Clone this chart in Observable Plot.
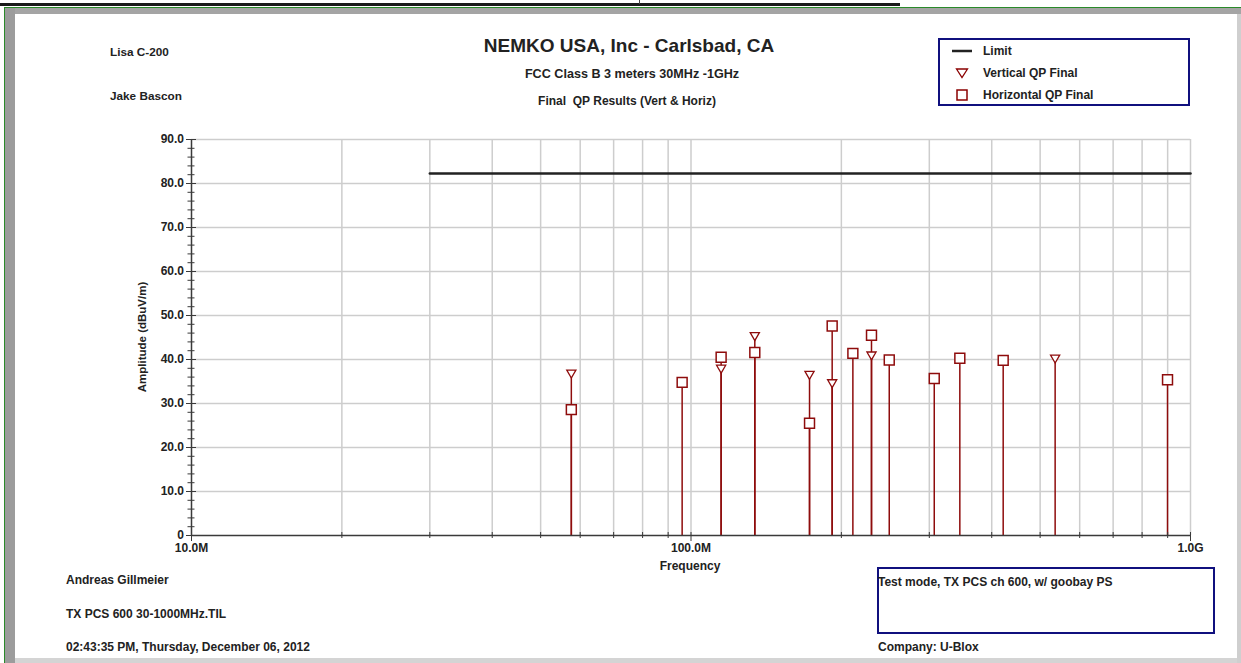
<!DOCTYPE html>
<html>
<head>
<meta charset="utf-8">
<script src="https://cdn.jsdelivr.net/npm/d3@7"></script>
<script src="https://cdn.jsdelivr.net/npm/@observablehq/plot@0.6"></script>
<style>
  html, body { margin: 0; padding: 0; background: #fff; }
  #page { position: relative; width: 1241px; height: 663px; overflow: hidden; background: #fff;
          font-family: "Liberation Sans", Arial, Helvetica, sans-serif; font-weight: bold; color: #222; }
  .abs { position: absolute; }
  .t { position: absolute; white-space: nowrap; line-height: 1; transform: translateY(-50%); }
  .c { transform: translate(-50%, -50%); }
  #chart { position: absolute; left: 0; top: 0; }
</style>
</head>
<body>
<div id="page">
  <!-- window frame -->
  <div class="abs" style="left:0;top:3px;width:900px;height:3px;background:#1a1a1a"></div>
  <div class="abs" style="left:639px;top:0;width:1px;height:4px;background:#444"></div>
  <div class="abs" style="left:4px;top:7px;width:1237px;height:1px;background:#2a8a2a"></div>
  <div class="abs" style="left:4px;top:7px;width:1px;height:656px;background:#2a8a2a"></div>
  <div class="abs" style="left:5px;top:8px;width:1236px;height:6px;background:#a4a4a4"></div>
  <div class="abs" style="left:5px;top:8px;width:10px;height:655px;background:#9c9c9c"></div>
  <div class="abs" style="left:15px;top:658px;width:1226px;height:5px;background:#d4d4d4"></div>
  <div class="abs" style="left:1237px;top:14px;width:4px;height:649px;background:#cfcfcf"></div>

  <div id="chart"></div>

  <!-- header texts -->
  <div class="t" style="left:110px;top:52px;font-size:11.75px">Lisa C-200</div>
  <div class="t" style="left:110px;top:96px;font-size:11.75px">Jake Bascon</div>
  <div class="t c" style="left:629px;top:45px;font-size:19px">NEMKO USA, Inc - Carlsbad, CA</div>
  <div class="t c" style="left:632px;top:74px;font-size:12.6px">FCC Class B 3 meters 30MHz -1GHz</div>
  <div class="t c" style="left:627px;top:101px;font-size:12px;white-space:pre">Final  QP Results (Vert &amp; Horiz)</div>

  <!-- legend -->
  <div class="abs" style="left:938px;top:38px;width:248px;height:64px;border:2px solid #10107e"></div>
  <svg class="abs" style="left:938px;top:38px" width="40" height="30">
    <line x1="14" x2="34" y1="13" y2="13" stroke="#222" stroke-width="2.5"></line>
  </svg>
  <svg class="abs" style="left:948px;top:60px" width="30" height="50">
    <path d="M8.5,9 L19.5,9 L14,17.5 Z" fill="white" stroke="#8b0000" stroke-width="1.3"></path>
    <rect x="9" y="30" width="10" height="10" fill="white" stroke="#8b0000" stroke-width="1.5"></rect>
  </svg>
  <div class="t" style="left:983px;top:51px;font-size:12px">Limit</div>
  <div class="t" style="left:983px;top:73px;font-size:12px">Vertical QP Final</div>
  <div class="t" style="left:983px;top:95px;font-size:12px">Horizontal QP Final</div>

  <!-- axis titles -->
  <div class="t c" style="left:143px;top:337px;font-size:11.5px;transform:translate(-50%,-50%) rotate(-90deg)">Amplitude (dBuV/m)</div>
  <div class="t c" style="left:690px;top:566px;font-size:12px">Frequency</div>

  <!-- footer -->
  <div class="t" style="left:66px;top:580px;font-size:12px">Andreas Gillmeier</div>
  <div class="t" style="left:66px;top:614px;font-size:12px">TX PCS 600 30-1000MHz.TIL</div>
  <div class="t" style="left:66px;top:647px;font-size:12px">02:43:35 PM, Thursday, December 06, 2012</div>
  <div class="abs" style="left:877px;top:567px;width:334px;height:63px;border:2px solid #10107e"></div>
  <div class="t" style="left:878px;top:582px;font-size:12px">Test mode, TX PCS ch 600, w/ goobay PS</div>
  <div class="t" style="left:878px;top:647px;font-size:12px">Company: U-Blox</div>
</div>

<script>
// ---- data ----
const vertFreq = [57.6e6, 114.9e6, 134.2e6, 172.7e6, 191.7e6, 229.8e6, 535.8e6];
const vertAmp  = [37.0, 38.1, 45.5, 36.7, 34.8, 41.1, 40.4];

const horizFreq = [57.6e6, 96.0e6, 114.9e6, 134.2e6, 172.7e6, 191.7e6, 210.9e6, 229.8e6, 249.4e6, 306.9e6, 345.3e6, 421.7e6, 899.5e6];
const horizAmp  = [28.6, 34.8, 40.5, 41.6, 25.5, 47.6, 41.4, 45.5, 39.9, 35.7, 40.3, 39.8, 35.4];

const limitFreq = [30e6, 1e9];
const limitAmp  = [82.3, 82.3];

const xMajorTicks  = [1e7, 1e8, 1e9];
const xMajorLabels = ["10.0M", "100.0M", "1.0G"];
const xMinorTicks  = [2e7, 3e7, 4e7, 5e7, 6e7, 7e7, 8e7, 9e7, 2e8, 3e8, 4e8, 5e8, 6e8, 7e8, 8e8, 9e8];

const yMajorTicks  = [0, 10, 20, 30, 40, 50, 60, 70, 80, 90];
const yMajorLabels = ["0", "10.0", "20.0", "30.0", "40.0", "50.0", "60.0", "70.0", "80.0", "90.0"];
const yMinorTicks  = [2, 4, 6, 8, 12, 14, 16, 18, 22, 24, 26, 28, 32, 34, 36, 38, 42, 44, 46, 48,
                      52, 54, 56, 58, 62, 64, 66, 68, 72, 74, 76, 78, 82, 84, 86, 88];

// ---- tables ----
const vData = vertFreq.map((f, i) => ({f, a: vertAmp[i]}));
const hData = horizFreq.map((f, i) => ({f, a: horizAmp[i]}));
const limData = limitFreq.map((f, i) => ({f, a: limitAmp[i]}));
const xLab = new Map(xMajorTicks.map((d, i) => [d, xMajorLabels[i]]));
const yLab = new Map(yMajorTicks.map((d, i) => [d, yMajorLabels[i]]));

const red = "#8e0c0c";
const gridColor = "#cdcdcd";
const axisColor = "#3a3a3a";

const chart = Plot.plot({
  width: 1241,
  height: 663,
  marginLeft: 191,
  marginRight: 51,
  marginTop: 139,
  marginBottom: 128,
  x: {type: "log", domain: [1e7, 1e9]},
  y: {type: "linear", domain: [0, 90]},
  style: {background: "transparent", fontFamily: "'Liberation Sans', Arial, sans-serif", fontSize: "12px", fontWeight: "bold", color: "#222"},
  marks: [
    Plot.gridY({ticks: yMajorTicks.filter(d => d > 0), stroke: gridColor, strokeOpacity: 1, strokeWidth: 1.5}),
    Plot.gridX({ticks: [...xMinorTicks, 1e8, 1e9], stroke: gridColor, strokeOpacity: 1, strokeWidth: 1.5}),
    Plot.line(limData, {x: "f", y: "a", stroke: "#222", strokeWidth: 2.5}),
    Plot.ruleX(vData, {x: "f", y1: 0, y2: "a", stroke: red, strokeWidth: 1.5}),
    Plot.ruleX(hData, {x: "f", y1: 0, y2: "a", stroke: red, strokeWidth: 1.5}),
    Plot.ruleY([0], {stroke: axisColor, strokeWidth: 1.5}),
    Plot.ruleX([1e7], {stroke: axisColor, strokeWidth: 1.5}),
    Plot.axisX({ticks: xMinorTicks, tickSize: 6, dy: -3, tickFormat: () => "", stroke: axisColor, label: null}),
    Plot.axisX({ticks: xMajorTicks, tickSize: 9, dy: -3, tickPadding: 2, tickFormat: d => xLab.get(d), stroke: axisColor, fill: "#222", label: null}),
    Plot.axisY({ticks: yMinorTicks, tickSize: 7, dx: 3.5, tickFormat: () => "", stroke: axisColor, label: null}),
    Plot.axisY({ticks: yMajorTicks, tickSize: 10, dx: 5, tickPadding: 2.5, tickFormat: d => yLab.get(d), stroke: axisColor, fill: "#222", label: null}),
    Plot.dot(vData, {x: "f", y: "a", symbol: "triangle", rotate: 180, r: 3.4, stroke: red, fill: "white", strokeWidth: 1.3}),
    Plot.dot(hData, {x: "f", y: "a", symbol: "square", r: 5.6, stroke: red, fill: "white", strokeWidth: 1.5})
  ]
});
document.getElementById("chart").appendChild(chart);
</script>
</body>
</html>
